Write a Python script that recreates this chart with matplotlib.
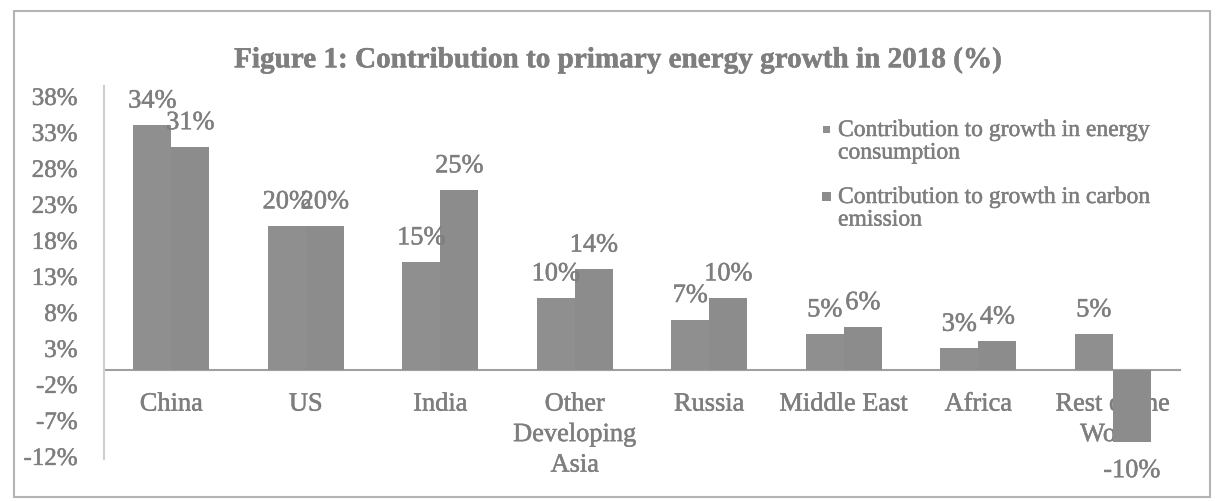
import matplotlib
matplotlib.use("Agg")
import matplotlib.pyplot as plt
import matplotlib.patheffects as pe
import numpy as np
from matplotlib.patches import Rectangle

# ---- data ----
categories = ["China", "US", "India", "Other\nDeveloping\nAsia", "Russia",
              "Middle East", "Africa", "Rest of the\nWorld"]
energy_consumption = [34, 20, 15, 10, 7, 5, 3, 5]
carbon_emission = [31, 20, 25, 14, 10, 6, 4, -10]
series_names = ["Contribution to growth in energy\nconsumption",
                "Contribution to growth in carbon\nemission"]
series_colors = ["#8f8f8f", "#8c8c8c"]
y_ticks = [-12, -7, -2, 3, 8, 13, 18, 23, 28, 33, 38]
title = "Figure 1: Contribution to primary energy growth in 2018 (%)"

TEXT = "#7e7e7e"
plt.rcParams['font.family'] = ['Liberation Serif', 'DejaVu Serif']
thick = [pe.withStroke(linewidth=0.35, foreground=TEXT)]

W, H = 1221, 502
fig = plt.figure(figsize=(W / 100, H / 100), dpi=100)
fig.patch.set_facecolor("white")

ax_left, ax_right = 104 / W, 1180 / W
ax_top, ax_bot = 1 - 87 / H, 1 - 460 / H
ax = fig.add_axes([ax_left, ax_bot, ax_right - ax_left, ax_top - ax_bot])
ax.set_axisbelow(True)

x = np.arange(len(categories))
bw = 0.283
bars1 = ax.bar(x - bw / 2, energy_consumption, bw, color=series_colors[0], zorder=3)
bars2 = ax.bar(x + bw / 2, carbon_emission, bw, color=series_colors[1], zorder=3)

ax.set_xlim(-0.5, len(categories) - 0.5)
ax.set_ylim(-12.36, 39.44)

# spines
for s in ["top", "right"]:
    ax.spines[s].set_visible(False)
ax.spines["bottom"].set_position(("data", 0))
ax.spines["bottom"].set_color("#a0a0a0")
ax.spines["bottom"].set_linewidth(1.5)
ax.spines["bottom"].set_zorder(2)
ax.spines["left"].set_color("#cfcfcf")
ax.spines["left"].set_linewidth(1.5)

ax.set_xticks(x)
ax.set_xticklabels(categories, fontsize=19, color=TEXT, linespacing=1.5)
ax.tick_params(axis="x", length=0, pad=17)
ax.set_yticks(y_ticks)
ax.set_yticklabels([f"{v}%" for v in y_ticks], fontsize=18, color=TEXT)
ax.tick_params(axis="y", length=0, pad=19)
for t in ax.get_xticklabels() + ax.get_yticklabels():
    t.set_path_effects(thick)

# data labels
for bars, vals in ((bars1, energy_consumption), (bars2, carbon_emission)):
    for b, v in zip(bars, vals):
        cx = b.get_x() + b.get_width() / 2
        off = 17 if v >= 0 else -21
        ax.annotate(f"{v}%", (cx, v), xytext=(0, off), textcoords="offset points",
                    ha="center", va="center", fontsize=19, color=TEXT,
                    annotation_clip=False, zorder=4, path_effects=thick)

# title
fig.text(617 / W, 1 - 61 / H, title, ha="center", va="center",
         fontsize=21, fontweight="bold", color=TEXT, path_effects=thick)

# legend (manual, markers aligned with first line)
leg_y = [130, 197]
msize = [7, 9]
for name, col, yy, ms in zip(series_names, series_colors, leg_y, msize):
    fig.patches.append(Rectangle(((826 - ms / 2) / W, 1 - (yy + ms / 2) / H), ms / W, ms / H,
                                 transform=fig.transFigure, facecolor=col,
                                 edgecolor="none"))
    fig.text(838 / W, 1 - (yy - 9) / H, name, ha="left", va="top",
             fontsize=17, color=TEXT, linespacing=1.1, path_effects=thick)

# outer frame
fig.patches.append(Rectangle((14 / W, 1 - 498 / H), (1210 - 14) / W, (498 - 12) / H,
                             transform=fig.transFigure, fill=False,
                             edgecolor="#b4b4b4", linewidth=1.5))

fig.savefig("out.png", dpi=100, facecolor="white")
